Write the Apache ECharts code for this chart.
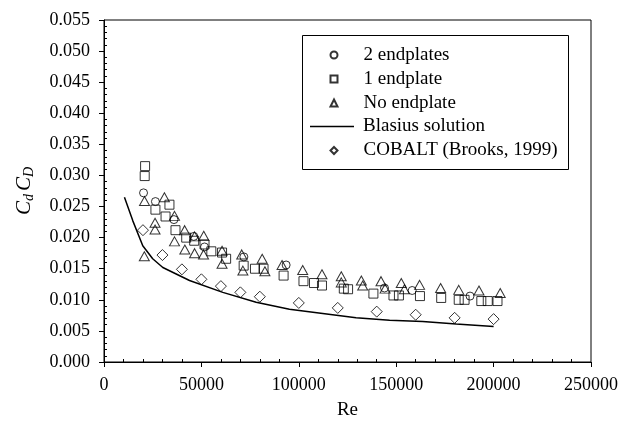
<!DOCTYPE html>
<html>
<head>
<meta charset="utf-8">
<script src="https://cdn.jsdelivr.net/npm/echarts@6/dist/echarts.min.js"></script>
<style>
html,body{margin:0;padding:0;background:#fff;}
#chart{width:621px;height:428px;}
</style>
</head>
<body>
<div id="chart"></div>
<script>
// ---- Data ----
const seriesNames = ['2 endplates', '1 endplate', 'No endplate', 'Blasius solution', 'COBALT (Brooks, 1999)'];

const twoEndRe = [20300, 26400, 35900, 46100, 51600, 71800, 93500, 144000, 158200, 187900];
const twoEndC  = [0.0272, 0.0258, 0.0229, 0.0202, 0.0185, 0.0169, 0.0156, 0.0119, 0.0115, 0.0106];

const oneEndRe = [21100, 20900, 26400, 31600, 33600, 36700, 42200, 46300, 51600, 55100, 60600, 62700, 71700, 77500, 81900, 92200, 102400, 107800, 111900, 123100, 125300, 138300, 148600, 151400, 162200, 173100, 182100, 185100, 193700, 197000, 202000];
const oneEndC  = [0.0315, 0.0299, 0.0245, 0.0234, 0.0253, 0.0212, 0.0200, 0.0195, 0.0189, 0.0178, 0.0176, 0.0166, 0.0155, 0.0150, 0.0150, 0.0139, 0.0130, 0.0127, 0.0123, 0.0118, 0.0117, 0.0110, 0.0107, 0.0107, 0.0106, 0.0103, 0.0100, 0.0100, 0.0098, 0.0098, 0.0098];

const noEndRe = [20700, 20800, 26200, 26200, 31000, 36200, 36200, 41400, 41500, 46500, 46500, 51200, 51100, 60600, 60600, 70700, 71300, 81200, 82600, 91400, 102000, 111900, 121800, 121800, 132100, 132800, 142200, 144300, 152600, 154200, 162000, 172800, 182100, 192500, 203400];
const noEndC  = [0.0170, 0.0259, 0.0224, 0.0213, 0.0265, 0.0235, 0.0194, 0.0212, 0.0181, 0.0202, 0.0175, 0.0203, 0.0173, 0.0179, 0.0158, 0.0173, 0.0147, 0.0166, 0.0146, 0.0156, 0.0148, 0.0141, 0.0138, 0.0128, 0.0131, 0.0123, 0.0130, 0.0118, 0.0127, 0.0117, 0.0124, 0.0119, 0.0116, 0.0115, 0.0111];

const blasiusRe = [10500, 14800, 19900, 25000, 30200, 43900, 61000, 78100, 95200, 112300, 129400, 146600, 163600, 180800, 200000];
const blasiusC  = [0.0265, 0.0227, 0.0187, 0.0166, 0.0152, 0.0131, 0.0112, 0.0096, 0.0085, 0.0078, 0.0071, 0.0067, 0.0065, 0.0061, 0.0057];

const cobaltRe = [20000, 30000, 40000, 50000, 60000, 70000, 80000, 100000, 120000, 140000, 160000, 180000, 200000];
const cobaltC  = [0.0212, 0.0172, 0.0149, 0.0133, 0.0122, 0.0112, 0.0105, 0.0095, 0.0087, 0.0081, 0.0076, 0.0071, 0.0069];

const xTickLabels = ['0', '50000', '100000', '150000', '200000', '250000'];
const yTickLabels = ['0.000', '0.005', '0.010', '0.015', '0.020', '0.025', '0.030', '0.035', '0.040', '0.045', '0.050', '0.055'];

// ---- Chart ----
const zip = (a, b) => a.map((v, i) => [v, b[i]]);
const FONT = '"Liberation Serif", "Times New Roman", serif';
const hollow = { color: 'rgba(0,0,0,0)', borderColor: '#000', borderWidth: 1 };
const legendText = { fontFamily: FONT, fontSize: 19, color: '#000', lineHeight: 21 };

const chart = echarts.init(document.getElementById('chart'), null, { renderer: 'canvas' });
chart.setOption({
  animation: false,
  backgroundColor: '#fff',
  grid: { left: 104, right: 30, top: 20, bottom: 66, show: true, borderColor: '#000', borderWidth: 1, backgroundColor: 'transparent' },
  graphic: [{
    type: 'rect', left: 302, top: 35, z: 10,
    shape: { width: 266, height: 134 },
    style: { fill: '#fff', stroke: '#000', lineWidth: 1 }
  }],
  legend: [
    {
      data: [seriesNames[0], seriesNames[1], seriesNames[2]],
      orient: 'vertical', left: 329.5, top: 44.5, padding: 0, z: 20,
      itemWidth: 7, itemHeight: 7, itemGap: 3,
      textStyle: Object.assign({ padding: [0, 0, 0, 21] }, legendText)
    },
    {
      data: [{ name: seriesNames[3], icon: 'path://M0,0L44,0L44,1.5L0,1.5Z' }],
      orient: 'vertical', left: 310, top: 116, padding: 0, z: 20,
      itemWidth: 44, itemHeight: 7,
      textStyle: Object.assign({ padding: [0, 0, 0, 4] }, legendText)
    },
    {
      data: [seriesNames[4]],
      orient: 'vertical', left: 329.5, top: 140, padding: 0, z: 20,
      itemWidth: 7, itemHeight: 7,
      textStyle: Object.assign({ padding: [0, 0, 0, 21] }, legendText)
    }
  ],
  xAxis: {
    type: 'value', min: 0, max: 250000, interval: 50000,
    name: 'Re', nameLocation: 'middle', nameGap: 39,
    nameTextStyle: { fontFamily: FONT, fontSize: 19, color: '#000' },
    axisLine: { lineStyle: { color: '#000', width: 1 } },
    axisTick: { show: true, length: 5, lineStyle: { color: '#000' } },
    minorTick: { show: true, splitNumber: 5, length: -3, lineStyle: { color: '#000' } },
    splitLine: { show: false },
    axisLabel: { fontFamily: FONT, fontSize: 18, color: '#000', margin: 14,
      formatter: v => xTickLabels[Math.round(v / 50000)] }
  },
  yAxis: {
    type: 'value', min: 0, max: 0.055, interval: 0.005,
    name: '{i|C}{s|d} {i|C}{s|D}', nameLocation: 'middle', nameGap: 68,
    nameTextStyle: {
      fontFamily: FONT, color: '#000',
      rich: {
        i: { fontFamily: FONT, fontStyle: 'italic', fontSize: 21, color: '#000', lineHeight: 24 },
        s: { fontFamily: FONT, fontStyle: 'italic', fontSize: 14, color: '#000', lineHeight: 24, verticalAlign: 'bottom', padding: [7, 0, 0, 0] }
      }
    },
    axisLine: { lineStyle: { color: '#000', width: 1 } },
    axisTick: { show: true, length: 5, lineStyle: { color: '#000' } },
    minorTick: { show: true, splitNumber: 5, length: -3, lineStyle: { color: '#000' } },
    splitLine: { show: false },
    axisLabel: { fontFamily: FONT, fontSize: 18, color: '#000', margin: 14,
      formatter: v => yTickLabels[Math.round(v / 0.005)] }
  },
  series: [
    { name: seriesNames[0], type: 'scatter', symbol: 'circle', symbolSize: 8, itemStyle: hollow, data: zip(twoEndRe, twoEndC) },
    { name: seriesNames[1], type: 'scatter', symbol: 'rect', symbolSize: 9, itemStyle: hollow, data: zip(oneEndRe, oneEndC) },
    { name: seriesNames[2], type: 'scatter', symbol: 'triangle', symbolSize: [10, 9], itemStyle: hollow, data: zip(noEndRe, noEndC) },
    { name: seriesNames[3], type: 'line', symbol: 'none', showSymbol: false, lineStyle: { color: '#000', width: 1.5 }, itemStyle: { color: '#000' }, data: zip(blasiusRe, blasiusC) },
    { name: seriesNames[4], type: 'scatter', symbol: 'diamond', symbolSize: 11, itemStyle: hollow, data: zip(cobaltRe, cobaltC) }
  ]
});
</script>
</body>
</html>
